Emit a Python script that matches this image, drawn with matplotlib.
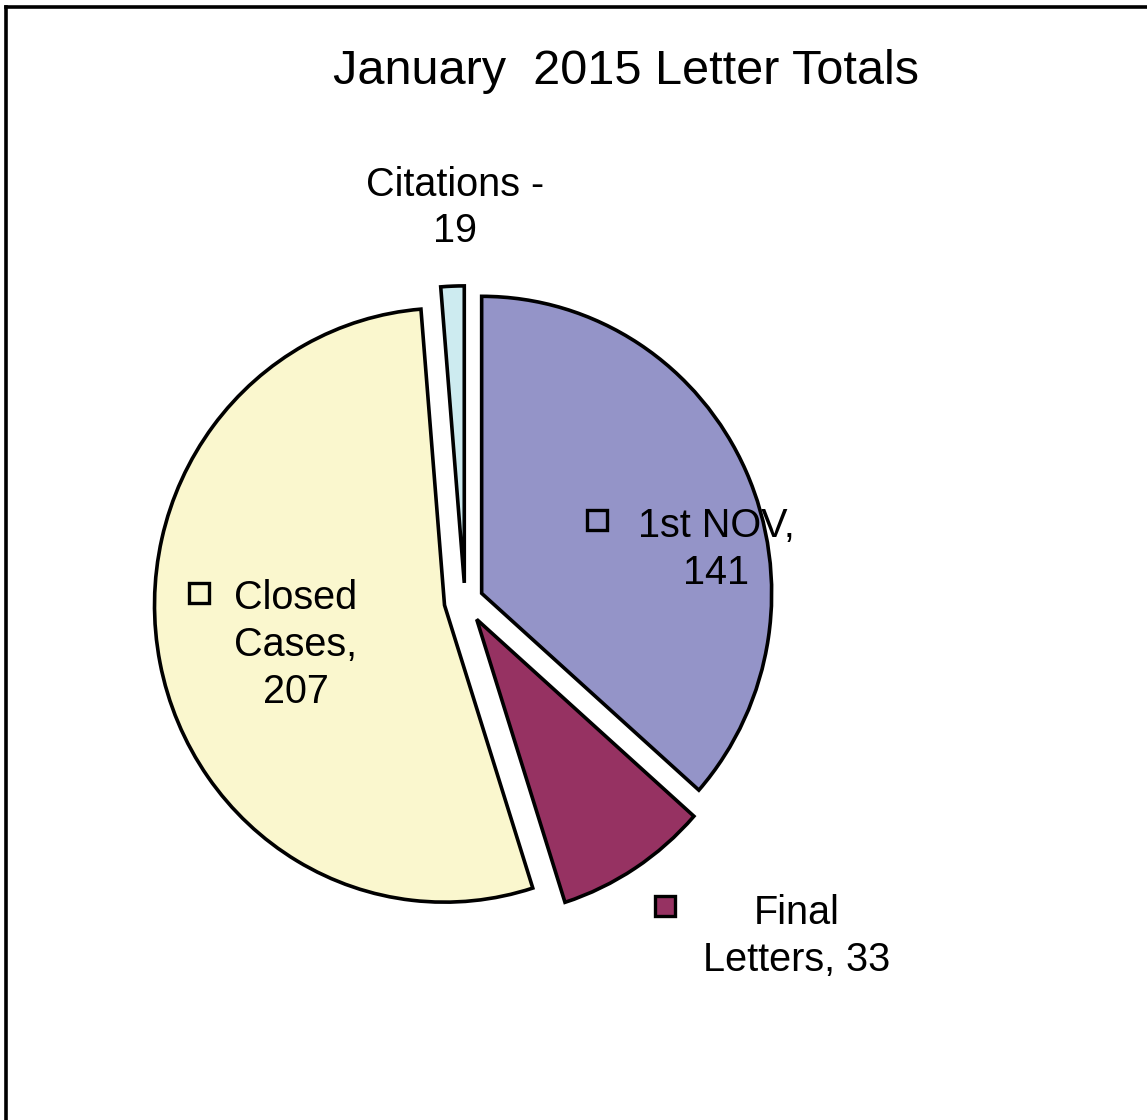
import matplotlib
matplotlib.use('Agg')
import matplotlib.pyplot as plt
from matplotlib.lines import Line2D

plt.rcParams['font.family'] = ['Liberation Sans', 'DejaVu Sans']

# data
categories = ['1st NOV', 'Final Letters', 'Closed Cases', 'Citations']
counts = [141, 33, 207, 19]
# the citations wedge in the original is much thinner than its label says
slice_sizes = [141, 33, 207, 5]
colors = ['#9494C8', '#963262', '#FAF7CE', '#CDEBF0']
explode = [0.063, 0.074, 0.072, 0.061]

label_texts = [
    '1st NOV,\n%d' % counts[0],
    'Final\nLetters, %d' % counts[1],
    'Closed\nCases,\n%d' % counts[2],
    'Citations -\n%d' % counts[3],
]

W, H = 1147, 1120
cx, cy = 465.0, 601.0     # pie centre in pixels
rx, ry = 290.0, 297.0     # pie is a touch taller than wide in the original


def px(x, y):
    # pixel position -> data coords (radius = 1)
    return (x - cx) / rx, (cy - y) / ry


fig = plt.figure(figsize=(W / 100, H / 100), dpi=100)
ax = fig.add_axes([0, 0, 1, 1])
ax.pie(slice_sizes, explode=explode, colors=colors, startangle=90,
       counterclock=False, radius=1,
       wedgeprops=dict(edgecolor='black', linewidth=2.6, joinstyle='miter'))
ax.set_aspect('auto')
ax.set_xlim(-cx / rx, (W - cx) / rx)
ax.set_ylim(-(H - cy) / ry, cy / ry)
ax.axis('off')

# labels
lab_pos = [(716, 549), (797, 937), (296, 645), (455, 208)]
for txt, (x, y) in zip(label_texts, lab_pos):
    ax.text(*px(x, y), txt, ha='center', va='center', fontsize=28.5,
            linespacing=1.3, color='black')

# legend keys next to the labels
key_pos = [(597, 520), (665, 906), (199, 593)]
key_face = ['none', colors[1], 'none']
for (x, y), fc in zip(key_pos, key_face):
    ax.plot(*px(x, y), marker='s', markersize=15, markerfacecolor=fc,
            markeredgecolor='black', markeredgewidth=2.4, linestyle='none')

ax.text(*px(626, 71), 'January  2015 Letter Totals', ha='center', va='center',
        fontsize=35, color='black')

# chart frame (only left and top edges are visible)
fig.add_artist(Line2D([6 / W, 6 / W], [0, 1 - 6.5 / H], color='black',
                      linewidth=2.6, transform=fig.transFigure))
fig.add_artist(Line2D([6 / W, 1], [1 - 6.5 / H, 1 - 6.5 / H], color='black',
                      linewidth=2.6, transform=fig.transFigure))

fig.savefig('out.png', dpi=100)
